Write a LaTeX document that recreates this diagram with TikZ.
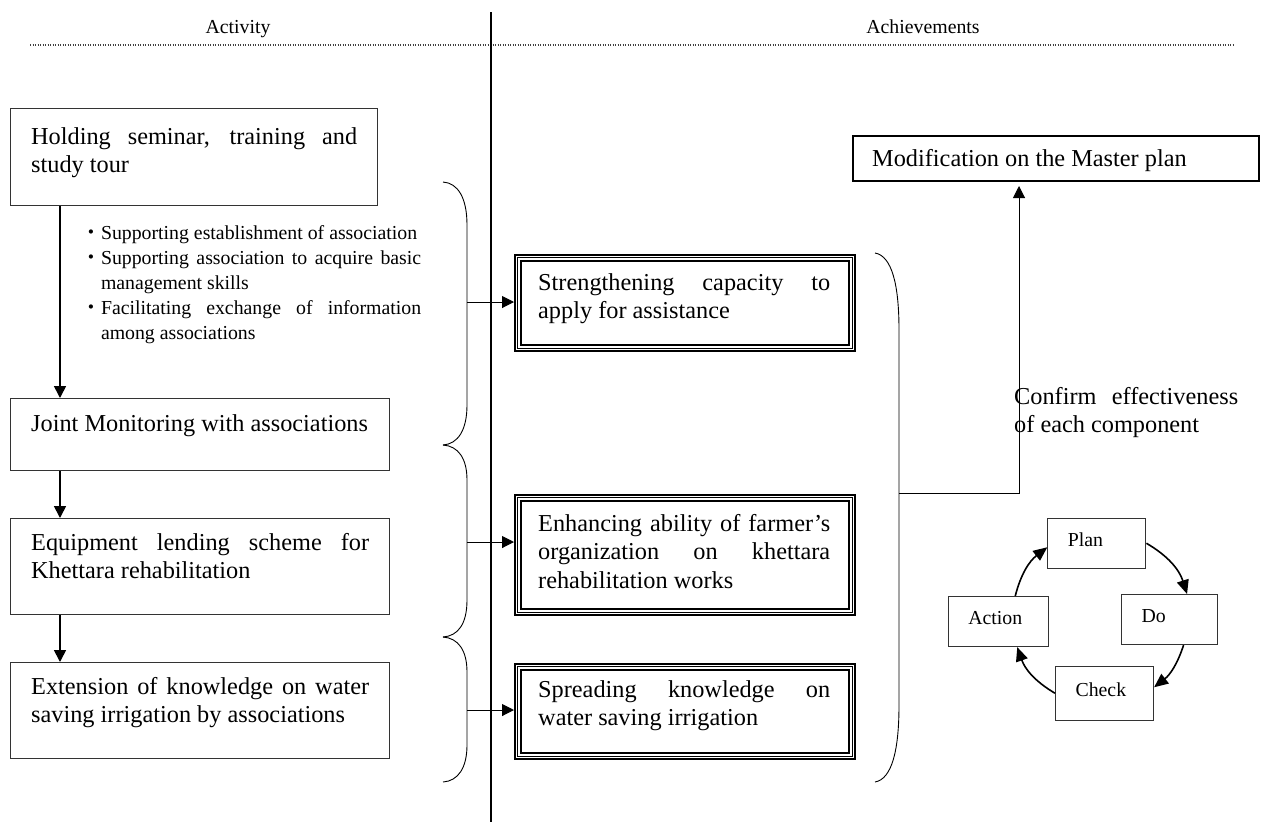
\documentclass[tikz,border=0pt]{standalone}
\usepackage{fontspec}
\setmainfont{Liberation Serif}
\newfontfamily\cjkdot{Noto Sans CJK JP}
\usetikzlibrary{arrows.meta,calc}

\newcommand\bigtext{\fontsize{24.3pt}{28.5pt}\selectfont}
\newcommand\smalltext{\fontsize{19.8pt}{25pt}\selectfont}
% justified paragraph of a given width, first baseline on the node anchor
\newcommand\jpar[2]{\parbox[t]{#1}{\bigtext\tolerance=10000\hbadness=10000\hyphenpenalty=10000\exhyphenpenalty=10000 #2}}
% bullet item with hanging indent
\newcommand\dotitem[1]{\hangindent=19.8pt\hangafter=1\noindent\makebox[19.8pt][c]{\cjkdot ・}#1\par}

\begin{document}
\begin{tikzpicture}[x=1pt,y=-1pt,
  actbox/.style={draw=black!80,line width=1.1pt,inner sep=0pt,anchor=north west},
  resbox/.style={draw=black,line width=2pt,inner sep=0pt,anchor=north west},
  cycbox/.style={draw=black!80,line width=1.1pt,anchor=north west,
    minimum width=98pt,minimum height=50pt,text width=58pt,inner xsep=20pt,
    inner ysep=0pt,align=left,text depth=8pt,font=\smalltext},
  txt/.style={inner sep=0pt,anchor=base west},
  head/.style={inner sep=0pt,anchor=base,font=\smalltext},
  flow/.style={line width=1.6pt,-{Triangle[length=12pt,width=12pt]}},
  link/.style={line width=1pt,-{Triangle[length=12pt,width=12pt]}},
  cyc/.style={line width=1.6pt,-{Triangle[length=14pt,width=12pt]}},
  brace/.style={line width=0.9pt},
]
\useasboundingbox (0,0) rectangle (1263,823);

% column headings and separators
\node[head] (hact) at (238,33) {Activity};
\node[head] (hach) at (923,33) {Achievements};
\draw[line width=1.1pt,black!75,dash pattern=on 1.2pt off 1.3pt] (30,45) -- (1233,45);
\draw[line width=2pt] (491,12) -- (491,822);

% activity boxes
\node[actbox,minimum width=367pt,minimum height=97pt] (a1) at (10,108) {};
\node[actbox,minimum width=379pt,minimum height=72pt] (a2) at (10,398) {};
\node[actbox,minimum width=379pt,minimum height=96pt] (a3) at (10,518) {};
\node[actbox,minimum width=379pt,minimum height=96pt] (a4) at (10,662) {};
\node[txt] (a1t) at (31,144) {\jpar{326pt}{Holding seminar, training and\linebreak study tour}};
\node[txt] (a2t) at (31,431) {\jpar{339pt}{Joint Monitoring with associations}};
\node[txt] (a3t) at (31,550) {\jpar{338pt}{Equipment lending scheme for\linebreak Khettara rehabilitation}};
\node[txt] (a4t) at (31,694) {\jpar{338pt}{Extension of knowledge on water\linebreak saving irrigation by associations}};

% supporting actions listed under the first activity
\node[txt] (items) at (81,239) {\parbox[t]{340pt}{\smalltext\tolerance=10000\hbadness=10000\hyphenpenalty=10000
  \dotitem{Supporting establishment of association}
  \dotitem{Supporting association to acquire basic\linebreak management skills}
  \dotitem{Facilitating exchange of information\linebreak among associations}}};

\draw[flow] ([xshift=50pt]a1.south west) -- ([xshift=50pt]a2.north west);
\draw[flow] ([xshift=50pt]a2.south west) -- ([xshift=50pt]a3.north west);
\draw[flow] ([xshift=50pt]a3.south west) -- ([xshift=50pt]a4.north west);

% achievement boxes with triple frame
\node[resbox,minimum width=340pt,minimum height=96pt] (b1) at (514,254) {};
\node[resbox,minimum width=340pt,minimum height=120pt] (b2) at (514,494) {};
\node[resbox,minimum width=340pt,minimum height=95pt] (b3) at (514,663) {};
\foreach \n in {b1,b2,b3}{
  \draw[line width=1.2pt] ([xshift=3.6pt,yshift=-3.6pt]\n.north west) rectangle ([xshift=-3.6pt,yshift=3.6pt]\n.south east);
  \draw[line width=2pt] ([xshift=6.6pt,yshift=-6.6pt]\n.north west) rectangle ([xshift=-6.6pt,yshift=6.6pt]\n.south east);
}
\node[txt] (b1t) at (538,290) {\jpar{292pt}{Strengthening capacity to\linebreak apply for assistance}};
\node[txt] (b2t) at (538,531) {\jpar{292pt}{Enhancing ability of farmer’s\linebreak organization on khettara\linebreak rehabilitation works}};
\node[txt] (b3t) at (538,697) {\jpar{292pt}{Spreading knowledge on\linebreak water saving irrigation}};

% braces grouping the activities
\draw[brace] (443,182) .. controls (458,183) and (467,198) .. (467,225) -- (467,405)
  .. controls (467,430) and (458,444) .. (443,445);
\draw[brace] (443,445) .. controls (458,446) and (467,458) .. (467,480) -- (467,600)
  .. controls (467,624) and (458,636) .. (443,637);
\draw[brace] (443,637) .. controls (458,638) and (467,650) .. (467,672) -- (467,745)
  .. controls (467,768) and (458,781) .. (443,782);
\coordinate (k1) at (467,302);
\coordinate (k2) at (467,542);
\coordinate (k3) at (467,710);
\draw[link] (k1) -- (k1 -| b1.west);
\draw[link] (k2) -- (k2 -| b2.west);
\draw[link] (k3) -- (k3 -| b3.west);

% master plan feedback
\node[resbox,minimum width=406pt,minimum height=45pt] (mp) at (852,135) {};
\node[txt] (mpt) at (872,166) {\bigtext Modification on the Master plan};
\draw[brace] (875,253) .. controls (892,256) and (899,285) .. (899,330) -- (899,705)
  .. controls (899,750) and (892,779) .. (875,782);
\coordinate (k4) at (899,493);
\coordinate (turn) at (1019,493);
\draw[link,shorten >=4pt] (k4) -- (turn) -- (turn |- mp.south);
\node[txt] (cft) at (1014,404) {\jpar{224pt}{Confirm effectiveness\linebreak of each component}};

% PDCA cycle
\node[cycbox] (plan) at (1047.3,517.7) {Plan};
\node[cycbox,minimum width=96pt,text width=56pt] (do) at (1121,594) {Do};
\node[cycbox,minimum width=100pt,text width=60pt] (act) at (947.7,596) {Action};
\node[cycbox,minimum height=54pt] (chk) at (1055,665.7) {Check};
\draw[cyc] (plan.east) to[bend left=21] ([xshift=17.5pt]do.north);
\draw[cyc] ([xshift=14pt]do.south) to[bend left=17] ([yshift=6pt]chk.east);
\draw[cyc] (chk.west) to[bend left=20] ([xshift=19pt]act.south);
\draw[cyc] ([xshift=17pt]act.north) to[bend left=19] ([yshift=-4pt]plan.west);
\end{tikzpicture}
\end{document}
